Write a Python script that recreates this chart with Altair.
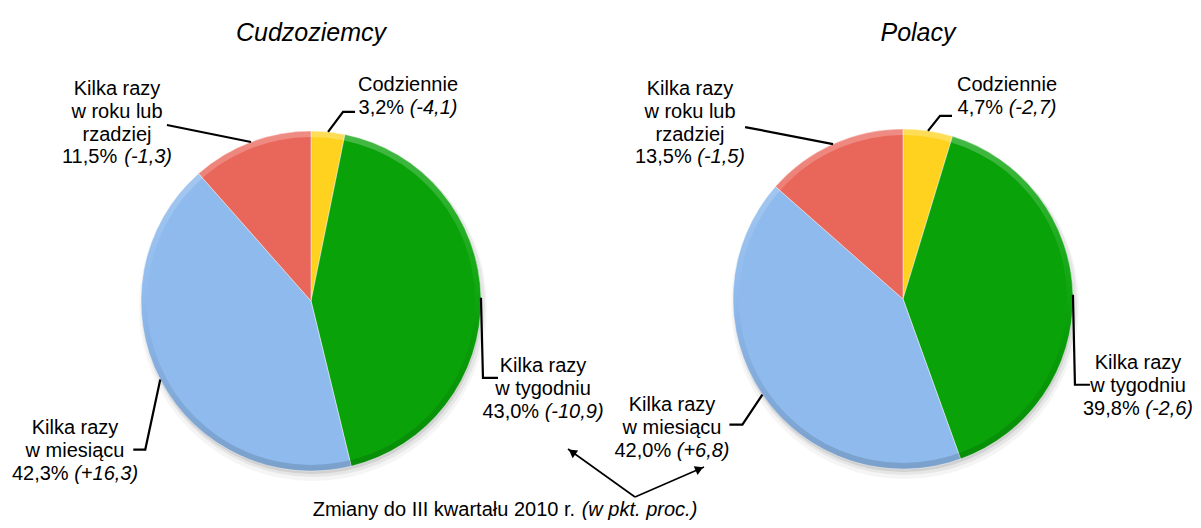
import math
import altair as alt
import pandas as pd

# ---------------- data ----------------
groups = ["Cudzoziemcy", "Polacy"]
categories = [
    "Codziennie",
    "Kilka razy w tygodniu",
    "Kilka razy w miesiącu",
    "Kilka razy w roku lub rzadziej",
]
label_lines = [
    ["Codziennie"],
    ["Kilka razy", "w tygodniu"],
    ["Kilka razy", "w miesiącu"],
    ["Kilka razy", "w roku lub", "rzadziej"],
]
share_cudzoziemcy = [3.2, 43.0, 42.3, 11.5]
share_polacy = [4.7, 39.8, 42.0, 13.5]
change_cudzoziemcy = [-4.1, -10.9, 16.3, -1.3]
change_polacy = [-2.7, -2.6, 6.8, -1.5]
note_main = "Zmiany do III kwartału 2010 r. "
note_italic = "(w pkt. proc.)"
slice_colors = ["#FFD21F", "#09A309", "#8EBAED", "#E9665A"]

shares = {"Cudzoziemcy": share_cudzoziemcy, "Polacy": share_polacy}
changes = {"Cudzoziemcy": change_cudzoziemcy, "Polacy": change_polacy}

# ---------------- layout (page pixels) ----------------
M = 8
W, H = 1185, 512
FONT = "Liberation Sans"
FS = 20
LH = 22.8
R = 170
pie_center = {"Cudzoziemcy": (311, 301), "Polacy": (903, 299)}
title_xy = {"Cudzoziemcy": (311, 41), "Polacy": (918, 41)}
label_xy = {
    "Cudzoziemcy": [(408, 91), (543, 372), (75, 434), (117, 95)],
    "Polacy": [(1007, 91), (1138, 369), (672, 411), (690, 95)],
}
leader = {
    "Cudzoziemcy": [(15, -20, 27, -20), (2, 80, 17, 80), (-15, 70, -27, 70), (-84, -17, -84, -17)],
    "Polacy": [(12, -15, 24, -15), (2, 90, 17, 90), (-20, 30, -33, 30), (-88, -17, -88, -17)],
}
arrow_vertex = (635, 497)
arrow_tips = [(568, 449), (704, 467)]
note_xy = (505, 516)

ARIAL = {
    " ": .278, ",": .278, ".": .278, "%": .889, "(": .333, ")": .333, "-": .333, "+": .584,
    "a": .556, "b": .556, "c": .5, "d": .556, "e": .556, "f": .278, "g": .556, "h": .556,
    "i": .222, "j": .222, "k": .5, "l": .222, "m": .833, "n": .556, "o": .556, "p": .556,
    "r": .333, "s": .5, "t": .278, "u": .556, "w": .722, "y": .5, "z": .5, "ł": .222,
    "ą": .556, "Z": .611, "I": .278,
}


def tw(s, size=FS):
    return sum(ARIAL.get(ch, .556) for ch in s) * size


def fmt(v):
    return f"{v:.1f}".replace(".", ",")


# ---------------- tables ----------------
slice_rows = []
for g in groups:
    for i, c in enumerate(categories):
        e = leader[g][i]
        slice_rows.append(dict(
            group=g, idx=i, category=c, share=shares[g][i], lid=f"{g}-{i}",
            cx=pie_center[g][0] - M, cy=pie_center[g][1] - M,
            e1x=e[0], e1y=e[1], e2x=e[2], e2y=e[3],
        ))
df_slices = pd.DataFrame(slice_rows)
df_centers = pd.DataFrame([dict(group=g, cx=pie_center[g][0] - M, cy=pie_center[g][1] - M) for g in groups])

center_rows, reg_rows, ital_rows = [], [], []
for g in groups:
    for i, c in enumerate(categories):
        ax, ay = label_xy[g][i]
        for j, line in enumerate(label_lines[i]):
            center_rows.append(dict(x=ax - M, y=ay + j * LH - M, t=line))
        yl = ay + len(label_lines[i]) * LH - M
        pct = fmt(shares[g][i]) + "% "
        v = changes[g][i]
        chg = "(" + ("+" if v > 0 else "") + fmt(v) + ")"
        left = ax - (tw(pct) + tw(chg)) / 2
        reg_rows.append(dict(x=left - M, y=yl, t=pct))
        ital_rows.append(dict(x=left + tw(pct) - M, y=yl, t=chg))

nx, ny = note_xy
nleft = nx - (tw(note_main) + tw(note_italic)) / 2
reg_rows.append(dict(x=nleft - M, y=ny - M, t=note_main))
ital_rows.append(dict(x=nleft + tw(note_main) - M, y=ny - M, t=note_italic))

df_center = pd.DataFrame(center_rows)
df_reg = pd.DataFrame(reg_rows)
df_ital = pd.DataFrame(ital_rows)
df_title = pd.DataFrame([dict(x=title_xy[g][0] - M, y=title_xy[g][1] - M, t=g) for g in groups])

arrow_rows, head_rows = [], []
for k, (tx, ty) in enumerate(arrow_tips):
    arrow_rows.append(dict(aid=k, o=0, x=arrow_vertex[0] - M, y=arrow_vertex[1] - M))
    arrow_rows.append(dict(aid=k, o=1, x=tx - M, y=ty - M))
    head_rows.append(dict(tx=tx - M, ty=ty - M, vx=arrow_vertex[0] - M, vy=arrow_vertex[1] - M))
df_arrow = pd.DataFrame(arrow_rows)
df_head = pd.DataFrame(head_rows)

# ---------------- chart ----------------
X = lambda f: alt.X(f, scale=None, axis=None)
Y = lambda f: alt.Y(f, scale=None, axis=None)
theta_scale = alt.Scale(domain=[0, 100], range=[0, 2 * math.pi])

base = alt.Chart(df_slices).transform_window(
    cum="sum(share)", groupby=["group"], sort=[alt.SortField("idx", order="ascending")], frame=[None, 0]
).transform_calculate(start="datum.cum - datum.share")

# soft shadow under each pie
shadows = [
    alt.Chart(df_centers).transform_calculate(sx=f"datum.cx + {dx}", sy=f"datum.cy + {dy}").mark_arc(
        outerRadius=R + grow, theta=0, theta2=2 * math.pi, color="#000000", opacity=op
    ).encode(x=X("sx:Q"), y=Y("sy:Q"))
    for dx, dy, grow, op in [(2, 6, 4, 0.04), (2, 4, 2, 0.06), (1, 3, 0, 0.09)]
]

arcs = base.mark_arc(outerRadius=R, stroke="#ffffff", strokeWidth=0.8, strokeOpacity=0.55).encode(
    x=X("cx:Q"), y=Y("cy:Q"),
    theta=alt.Theta("start:Q", scale=theta_scale),
    theta2="cum:Q",
    color=alt.Color("category:N", scale=alt.Scale(domain=categories, range=slice_colors), legend=None),
)

# bevel rim: light at the top, darker at the bottom
bevel = alt.Chart(df_centers).mark_arc(
    innerRadius=R - 6, outerRadius=R, theta=0, theta2=2 * math.pi,
    color=alt.Gradient(
        gradient="linear", x1=0, y1=0, x2=0, y2=1,
        stops=[
            alt.GradientStop(color="rgba(255,255,255,0.25)", offset=0),
            alt.GradientStop(color="rgba(255,255,255,0.04)", offset=0.45),
            alt.GradientStop(color="rgba(0,0,0,0.04)", offset=0.6),
            alt.GradientStop(color="rgba(0,0,0,0.14)", offset=1),
        ],
    ),
).encode(x=X("cx:Q"), y=Y("cy:Q"))

leaders = base.transform_calculate(
    ang="(datum.start + datum.share / 2) / 100 * 2 * PI",
).transform_calculate(
    ex=f"datum.cx + {R} * sin(datum.ang)",
    ey=f"datum.cy - {R} * cos(datum.ang)",
    s0="0", s1="1", s2="2",
).transform_fold(["s0", "s1", "s2"], as_=["step", "k"]).transform_calculate(
    lx="datum.ex + (datum.step == 's0' ? 0 : datum.step == 's1' ? datum.e1x : datum.e2x)",
    ly="datum.ey + (datum.step == 's0' ? 0 : datum.step == 's1' ? datum.e1y : datum.e2y)",
).mark_line(color="black", strokeWidth=2.2, strokeJoin="miter").encode(
    x=X("lx:Q"), y=Y("ly:Q"), detail="lid:N", order=alt.Order("step:N"),
)

txt = dict(font=FONT, fontSize=FS, baseline="alphabetic", color="black")
t_center = alt.Chart(df_center).mark_text(align="center", **txt).encode(x=X("x:Q"), y=Y("y:Q"), text="t:N")
t_reg = alt.Chart(df_reg).mark_text(align="left", **txt).encode(x=X("x:Q"), y=Y("y:Q"), text="t:N")
t_ital = alt.Chart(df_ital).mark_text(align="left", fontStyle="italic", **txt).encode(x=X("x:Q"), y=Y("y:Q"), text="t:N")
t_title = alt.Chart(df_title).mark_text(
    align="center", font=FONT, fontSize=25, fontStyle="italic", baseline="alphabetic", color="black"
).encode(x=X("x:Q"), y=Y("y:Q"), text="t:N")

arrows = alt.Chart(df_arrow).mark_line(color="black", strokeWidth=1.6).encode(
    x=X("x:Q"), y=Y("y:Q"), detail="aid:N", order=alt.Order("o:Q")
)
heads = alt.Chart(df_head).transform_calculate(
    dx="datum.tx - datum.vx", dy="datum.ty - datum.vy",
).transform_calculate(
    len="sqrt(datum.dx * datum.dx + datum.dy * datum.dy)",
    ang="(atan2(datum.dx, -datum.dy) * 180 / PI + 360) % 360",
).transform_calculate(
    hx="datum.tx - 5 * datum.dx / datum.len",
    hy="datum.ty - 5 * datum.dy / datum.len",
).mark_point(shape="triangle-up", filled=True, color="black", size=90, opacity=1).encode(
    x=X("hx:Q"), y=Y("hy:Q"), angle=alt.Angle("ang:Q", scale=None)
)

chart = alt.layer(*shadows, arcs, bevel, leaders, arrows, heads, t_center, t_reg, t_ital, t_title).properties(
    width=W, height=H, autosize=alt.AutoSizeParams(type="none"), padding=0
).configure_view(stroke=None)

chart.save("out.html", embed_options={"renderer": "svg", "actions": False})
